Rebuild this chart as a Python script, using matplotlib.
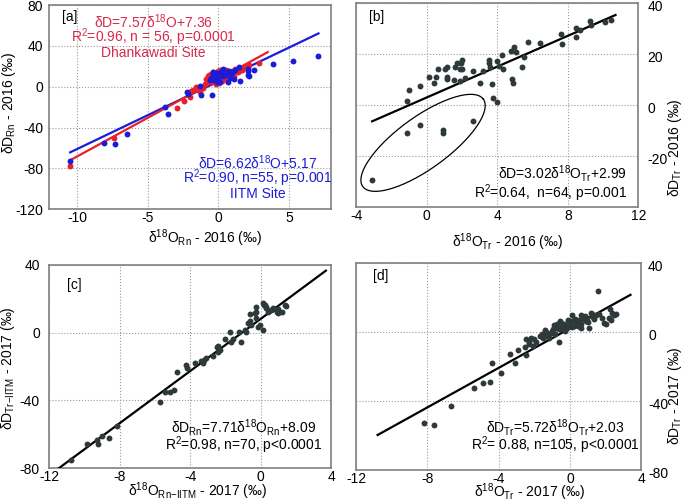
import numpy as np
import matplotlib
matplotlib.use("Agg")
import matplotlib.pyplot as plt
import matplotlib.transforms as mtransforms

plt.rcParams['font.family'] = ['Liberation Sans', 'DejaVu Sans']
plt.rcParams['mathtext.fontset'] = 'custom'
plt.rcParams['mathtext.rm'] = 'Liberation Sans'
plt.rcParams['mathtext.it'] = 'Liberation Sans:italic'
plt.rcParams['axes.unicode_minus'] = False

# --- panel a: Dhankawadi (red) and IITM (blue) rain, 2016 ---
a_red_x = [-10.5, -7.4, -2.9, -2.4, -2.0, -1.95, -1.8, -1.55, -1.45, -1.3,
           -1.1, -0.95, -0.85, -0.75, -0.7, -0.6, -0.55, -0.45, -0.4, -0.3,
           -0.25, -0.2, -0.1, -0.05, 0.0, 0.05, 0.1, 0.15, 0.25, 0.3,
           0.35, 0.45, 0.5, 0.6, 0.7, 0.8, 0.9, 1.0, 1.2, 1.4,
           1.5, 1.7, 1.9, 2.15, 2.86, -0.65, -0.15, 0.2, 0.55, 1.1]
a_red_y = [-78, -50, -21, -14, -10, -4, -3, 0, -2, -5,
           -1, 3, 7.5, 10, 6, 8, 12, 5, 14, 9,
           13, 6, 11, 15, 8, 4, 12, 16, 6, 10,
           13, 8, 14, 11, 15, 12, 13, 15, 17, 14,
           15, 16, 19, 21, 23, 11, 3, 9, 16, 10]
a_blue_x = [-10.5, -8.1, -7.3, -6.5, -3.75, -3.6, -2.2, -2.15, -1.3, -1.2,
            -0.45, -0.6, -0.5, -0.4, -0.3, -0.2, -0.1, 0.0, 0.1, 0.2,
            0.3, 0.4, 0.5, 0.6, 0.7, 0.75, 0.9, 1.0, 1.2, 1.44,
            1.56, 2.1, 2.1, 2.2, 2.1, 2.5, 3.9, 5.3, 7.07, -0.1,
            0.3, 0.8, -0.35, 0.15, 1.1]
a_blue_y = [-73, -55, -56, -46, -20, -27, -5, -7, 1, -8,
            -8, 6.5, 9, 12, 7, 10, 13, 8, 12, 14,
            10, 15, 11, 13, 4.5, 15, 12, 14, 16, 19,
            6, 17.5, 11, 10.5, 15, 16.5, 22, 25, 30, 5,
            17, 9, 14, 5, 8]
a_red_fit = (7.57, 7.36, -10.5, 3.5)     # slope, intercept, x from, x to
a_blue_fit = (6.62, 5.17, -10.5, 7.1)

# --- panel b: tree water 2016 ---
b_x = [-1.14, -1.01, -0.36, 0.13, 0.39, 0.54, 0.64, 1.01, 1.14, 1.14,
       1.14, 1.52, 1.61, 1.72, 1.86, 1.86, 1.95, 2.0, 2.0, 2.14,
       2.65, 3.04, 3.2, 3.55, 3.55, 3.59, 3.68, 3.74, 4.0, 3.96,
       4.07, 4.26, 4.34, 4.77, 4.96, 5.05, 4.83, 4.9, 5.39, 5.52,
       5.76, 6.42, 7.6, 7.68, 8.47, 8.47, 8.66, 9.28, 9.3, 10.08,
       10.44, -3.08, -1.11, -0.36, 0.92, 0.92, 2.61]
b_y = [1.7, 5.9, 7.6, 11, 8.7, 11, 14, 14, 14.9, 11,
       10.3, 9.9, 14.8, 16.6, 14.3, 9.6, 16.6, 17.5, 14, 10.7,
       13.2, 8.7, 13.2, 17.5, 16.6, 14.9, 8.3, 2.6, 1.3, 17.1,
       15.3, 19.8, 14.3, 21.1, 22.8, 20.9, 10.3, 8.7, 14.9, 18.9,
       24.6, 24.3, 27.7, 24, 26.7, 30.1, 29.4, 33, 31.5, 32.5,
       33.4, -29.3, -11.1, -7.9, -9.8, -10.8, -6.2]
b_fit = (3.02, 2.99, -3.1, 10.7)

# --- panel c: IITM 2017 ---
c_x = [-10.75, -9.87, -9.3, -9.2, -9.0, -8.58, -8.13, -5.7, -5.43, -5.15,
       -4.9, -4.77, -4.26, -4.2, -3.7, -3.4, -3.2, -3.07, -2.7, -2.5,
       -2.42, -2.32, -2.0, -1.66, -1.75, -1.25, -1.09, -0.9, -0.85, -0.72,
       -0.62, -0.53, -0.34, -0.28, -0.24, -0.15, -0.06, 0.13, 0.2, 0.3,
       0.13, 0.32, 0.43, 0.6, 0.72, 0.9, 1.0, 1.2, 1.36, 1.45,
       -0.62, -0.28, 0.5, 0.7, 1.0, -1.57, -2.4, -3.26, 0.23, 0.9]
c_y = [-75.3, -66, -63.5, -66, -61, -62.5, -55, -40.8, -35, -35.3,
       -34, -23, -19, -21, -18, -17, -16, -15.2, -13.6, -8.3,
       -11.2, -10.2, -3.7, -5.3, 0.6, 0.6, -5.7, 1.6, 0.6, 5.5,
       7, 4.5, 11.4, 12.4, 8.5, 3.5, 4.5, 17.3, 16.5, 15.4,
       1.6, 14.4, 12.4, 13.4, 14.4, 13.4, 11.4, 12.4, 16.4, 16,
       10.8, 15.4, 12.9, 13.9, 13.9, -3.7, -7.7, -18.2, 16.4, 12.4]
c_fit = (7.71, 8.09, -11.5, 3.7)

# --- panel d: tree water 2017 ---
d_x = [-8.2, -7.65, -6.65, -5.41, -4.9, -4.47, -4.38, -3.85, -3.38, -3.1,
       -2.91, -2.54, -2.44, -2.44, -2.3, -2.2, -2.0, -1.9, -2.3, -2.1,
       -1.56, -1.37, -1.28, -1.18, -1.09, -1.0, -0.9, -0.81, -0.72, -0.62,
       -0.53, -0.43, -0.34, -0.25, -0.15, -0.06, 0.04, 0.13, 0.23, 0.32,
       0.51, 0.6, 0.7, 0.88, 0.98, 1.07, 1.17, 1.26, 1.35, 1.45,
       1.63, 1.82, 1.92, 2.01, 2.2, 2.29, 2.38, 2.48, 2.57, 2.23,
       1.58, -0.62, -1.7, -1.5, -1.2, -0.95, -0.7, -0.5, -0.3, -0.1,
       0.1, 0.3, 0.45, 0.65, 0.85, 1.0, 1.3, -1.4, -0.85, -0.4,
       0.0, 0.6]
d_y = [-53, -54, -43, -32.3, -29.6, -29, -17.8, -23.8, -12.9, -18,
       -10.6, -8.7, -13.3, -4.2, -5.8, -3.3, -4.2, -5.6, -6.8, -8,
       -1.3, 0.2, -2.3, -3.6, -0.9, 0.6, 4.1, 2.5, 4.8, 1.5,
       6.4, 3.5, 4.8, 0.6, 2.5, 4.8, 6.4, 9.6, 3.5, 5.4,
       6.8, 2.5, 7.3, 6.4, 8.3, 2.5, 11.2, 10.3, 7.3, 9.6,
       10.3, 8.3, 5.4, 4.5, 8.3, 6.8, 10.7, 9.6, 10.3, 13.1,
       23.4, -5.6, -2.5, -3.5, -1.5, 1.5, 2.0, 5.0, 2.0, 7.0,
       3.0, 7.5, 3.5, 4.5, 9.0, 5.5, 8.5, 1.0, -1.0, 1.5,
       3.5, 9.5]
d_fit = (5.72, 2.03, -10.8, 3.4)

RED = '#e8202a'
RED_TXT = '#d8284c'
BLUE = '#1c1cd8'
DOT = '#2e3a3a'
FS = 10


def fit_line(ax, fit, color, lw=1.6):
    slope, icpt, x0, x1 = fit
    xs = np.array([x0, x1])
    ax.plot(xs, slope * xs + icpt, color=color, lw=lw, zorder=3)


def style(ax, ypad):
    for s in ax.spines.values():
        s.set_color('#808080')
        s.set_linewidth(1.2)
    ax.grid(True, ls=':', color='#9a9a9a', lw=0.8)
    ax.set_axisbelow(True)
    ax.tick_params(length=0, labelsize=FS)
    ax.tick_params(axis='x', pad=1.5)
    ax.tick_params(axis='y', pad=ypad)


def labels(ax, xlab, ylab, xpos, ypos, right=False):
    if right:
        ax.yaxis.tick_right()
        ax.yaxis.set_label_position('right')
        # tick labels sit a little below their grid lines in the original
        off = mtransforms.ScaledTranslation(0, -2 / 72, fig.dpi_scale_trans)
        for lab in ax.get_yticklabels():
            lab.set_transform(lab.get_transform() + off)
    ax.set_xlabel(xlab, fontsize=FS, va='center', ha='center')
    ax.set_ylabel(ylab, fontsize=FS, va='center', ha='center')
    ax.xaxis.set_label_coords(*xpos)
    ax.yaxis.set_label_coords(*ypos)


def lines(ax, x, ys, texts, **kw):
    for y, s in zip(ys, texts):
        ax.text(x, y, s, transform=ax.transAxes, fontsize=FS, va='center', **kw)


fig = plt.figure(figsize=(6.85, 5.04), dpi=100)

# [a]
ax = fig.add_axes([0.0715, 0.585, 0.412, 0.405])
style(ax, 4.3)
ax.scatter(a_red_x, a_red_y, s=18, color=RED, lw=0, zorder=4)
ax.scatter(a_blue_x, a_blue_y, s=18, color=BLUE, lw=0, zorder=4)
fit_line(ax, a_blue_fit, BLUE)
fit_line(ax, a_red_fit, RED)
ax.set_xlim(-12, 8)
ax.set_ylim(-120, 80)
ax.set_xticks([-10, -5, 0, 5])
ax.set_yticks([-120, -80, -40, 0, 40, 80])
labels(ax, 'δ$^{18}$O$_{\\rm Rn}$ - 2016 (‰)', 'δD$_{\\rm Rn}$ - 2016 (‰)',
       (0.553, -0.142), (-0.14, 0.52))
ax.text(0.045, 0.94, '[a]', transform=ax.transAxes, fontsize=FS, va='center')
lines(ax, 0.37, [0.92, 0.842, 0.764],
      ['δD=7.57δ$^{18}$O+7.36', 'R$^2$=0.96, n = 56, p=0.0001', 'Dhankawadi Site'],
      color=RED_TXT, ha='center')
lines(ax, 0.74, [0.23, 0.152, 0.074],
      ['δD=6.62δ$^{18}$O+5.17', 'R$^2$=0.90, n=55, p=0.001', 'IITM Site'],
      color=BLUE, ha='center')

# [b]
ax = fig.add_axes([0.520, 0.589, 0.412, 0.405])
style(ax, 6.5)
ax.scatter(b_x, b_y, s=18, color=DOT, lw=0, zorder=4)
fit_line(ax, b_fit, 'black')
# ellipse around the low outliers
t = np.linspace(0, 2 * np.pi, 200)
ax.plot(-0.21 + 3.42 * np.cos(t) + 0.85 * np.sin(t),
        -14.8 + 17.1 * np.cos(t) - 8.3 * np.sin(t), color='black', lw=0.9)
ax.set_xlim(-4, 12)
ax.set_ylim(-40, 40)
ax.set_xticks([-4, 0, 4, 8, 12])
ax.set_yticks([-20, 0, 20, 40])
labels(ax, 'δ$^{18}$O$_{\\rm Tr}$ - 2016 (‰)', 'δD$_{\\rm Tr}$ - 2016 (‰)',
       (0.535, -0.17), (1.128, 0.29), right=True)
ax.text(0.045, 0.93, '[b]', transform=ax.transAxes, fontsize=FS, va='center')
lines(ax, 0.96, [0.165, 0.07],
      ['δD=3.02δ$^{18}$O$_{\\rm Tr}$+2.99', 'R$^2$=0.64,  n=64, p=0.001'], ha='right')

# [c]
ax = fig.add_axes([0.0715, 0.0714, 0.412, 0.403])
style(ax, 6.5)
ax.scatter(c_x, c_y, s=18, color=DOT, lw=0, zorder=4)
fit_line(ax, c_fit, 'black')
ax.set_xlim(-12, 4)
ax.set_ylim(-80, 40)
ax.set_xticks([-12, -8, -4, 0, 4])
ax.set_yticks([-80, -40, 0, 40])
labels(ax, 'δ$^{18}$O$_{\\rm Rn\\mathrm{-}IITM}$ - 2017 (‰)',
       'δD$_{\\rm Tr\\mathrm{-}IITM}$ - 2017 (‰)',
       (0.525, -0.112), (-0.144, 0.49))
ax.text(0.065, 0.90, '[c]', transform=ax.transAxes, fontsize=FS, va='center')
lines(ax, 0.69, [0.2, 0.11],
      ['δD$_{\\rm Rn}$=7.71δ$^{18}$O$_{\\rm Rn}$+8.09', 'R$^2$=0.98, n=70, p<0.0001'],
      ha='center')

# [d]
ax = fig.add_axes([0.520, 0.0675, 0.416, 0.411])
style(ax, 5)
ax.scatter(d_x, d_y, s=18, color=DOT, lw=0, zorder=4)
fit_line(ax, d_fit, 'black')
ax.set_xlim(-12, 4)
ax.set_ylim(-80, 40)
ax.set_xticks([-12, -8, -4, 0, 4])
ax.set_yticks([-80, -40, 0, 40])
labels(ax, 'δ$^{18}$O$_{\\rm Tr}$ - 2017 (‰)', 'δD$_{\\rm Tr}$ - 2017 (‰)',
       (0.607, -0.108), (1.12, 0.36), right=True)
ax.text(0.06, 0.935, '[d]', transform=ax.transAxes, fontsize=FS, va='center')
lines(ax, 0.70, [0.205, 0.122],
      ['δD$_{\\rm Tr}$=5.72δ$^{18}$O$_{\\rm Tr}$+2.03', 'R$^2$= 0.88, n=105, p<0.0001'],
      ha='center')

fig.savefig('out.png', dpi=100)
